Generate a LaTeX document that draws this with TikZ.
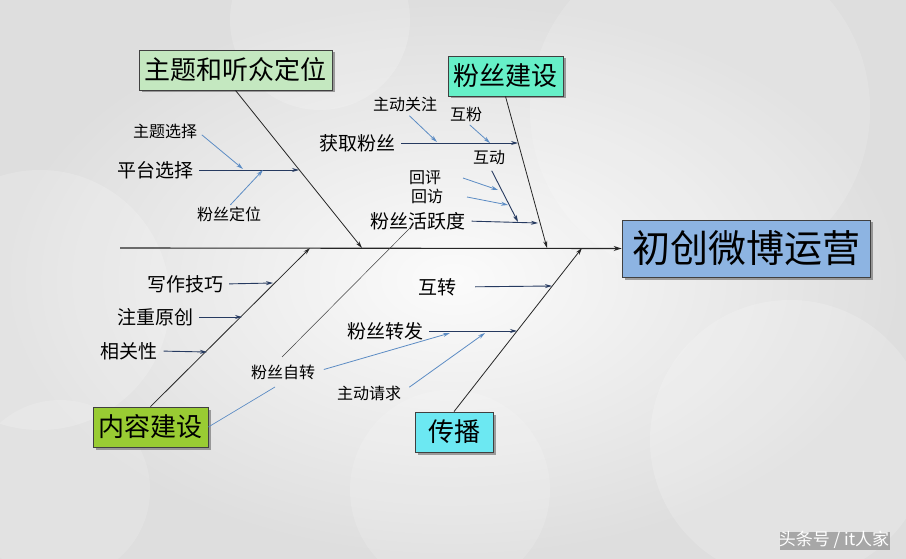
\documentclass[tikz,border=0pt]{standalone}
\usepackage{fontspec}
\setmainfont{Noto Sans CJK SC}
\usetikzlibrary{arrows.meta,shadows}
\definecolor{ztgreen}{RGB}{196,232,192}
\definecolor{fsmint}{RGB}{102,240,200}
\definecolor{nrolive}{RGB}{153,204,51}
\definecolor{cbcyan}{RGB}{108,232,242}
\definecolor{mainblue}{RGB}{141,180,226}
\definecolor{navyrib}{RGB}{38,58,96}
\definecolor{bluetwig}{RGB}{92,140,196}

\begin{document}
\begin{tikzpicture}[x=1pt,y=-1pt,
  catbox/.style={draw=black!75, line width=0.8pt, inner sep=0pt, minimum height=40pt,
    drop shadow={shadow xshift=2.5pt, shadow yshift=-2.5pt, fill=black!60, opacity=0.6},
    font=\fontsize{26}{26}\selectfont},
  bone/.style={black!85, line width=0.8pt, -{Stealth[length=7pt,width=4pt]}},
  rib/.style={navyrib, line width=0.9pt, shorten <=6pt, -{Stealth[length=7pt,width=4pt]}},
  twig/.style={bluetwig, line width=0.8pt, -{Stealth[length=7pt,width=4pt]}},
  midlbl/.style={font=\fontsize{19}{19}\selectfont, inner sep=0pt},
  smalllbl/.style={font=\fontsize{16}{16}\selectfont, inner sep=0pt}]
\useasboundingbox (0,0) rectangle (906,559);
% background
\shade[inner color=gray!3, outer color=gray!26] (0,0) rectangle (906,559);
\fill[white, opacity=0.18] (40,300) circle (130);
\fill[white, opacity=0.18] (320,20) circle (90);
\fill[white, opacity=0.15] (700,110) circle (170);
\fill[white, opacity=0.18] (790,440) circle (140);
\fill[white, opacity=0.15] (450,490) circle (100);
\fill[white, opacity=0.15] (60,490) circle (90);

% category boxes
\node[catbox, fill=ztgreen, minimum width=193pt] (zt) at (235.5,70) {主题和听众定位};
\node[catbox, fill=fsmint, minimum width=115pt] (fsjs) at (505.5,76) {粉丝建设};
\node[catbox, fill=nrolive, minimum width=115pt] (nrjs) at (150.5,427) {内容建设};
\node[catbox, fill=cbcyan, minimum width=78pt] (cb) at (454,432) {传播};
\node[catbox, fill=mainblue, minimum width=248pt, minimum height=57pt,
  font=\fontsize{38}{38}\selectfont] (main) at (746,248.5) {初创微博运营};

% spine and bones
\coordinate (tail) at (120,248);
\coordinate (b1) at (362,248);
\coordinate (b2) at (547,248);
\coordinate (b3) at (310,248);
\coordinate (b4) at (582,248);
\draw[black!85, line width=1.1pt, -{Stealth[length=8pt,width=5pt]}] (tail) -- (main.west);
\draw[bone] (zt.south) -- (b1);
\draw[bone] (fsjs.south) -- (b2);
\draw[bone] (nrjs.north) -- (b3);
\draw[bone] (cb.north) -- (b4);

% labels
\node[midlbl] (ptxz) at (155,170) {平台选择};
\node[smalllbl] (ztxz) at (165,131) {主题选择};
\node[smalllbl] (fsdw) at (229,214) {粉丝定位};
\node[midlbl] (hqfs) at (357,143) {获取粉丝};
\node[smalllbl] (zdgz) at (405,104) {主动关注};
\node[smalllbl] (hf) at (466,114) {互粉};
\node[smalllbl] (hd) at (489,158) {互动};
\node[smalllbl] (hp) at (425,178) {回评};
\node[smalllbl] (hfw) at (427,196) {回访};
\node[midlbl] (hyd) at (418,221) {粉丝活跃度};
\node[midlbl] (xzjq) at (185,284) {写作技巧};
\node[midlbl] (zzyc) at (155,317) {注重原创};
\node[midlbl] (xgx) at (129,351) {相关性};
\node[smalllbl] (fszz) at (283,372) {粉丝自转};
\node[midlbl] (hz) at (437,287) {互转};
\node[midlbl] (fszf) at (385,331) {粉丝转发};
\node[smalllbl] (zdqq) at (369,393) {主动请求};

% points on bones and ribs
\coordinate (r1) at (299,170);
\coordinate (r2) at (518,143);
\coordinate (r3) at (538,223);
\coordinate (r4) at (273,283);
\coordinate (r5) at (242,317);
\coordinate (r6) at (207,352);
\coordinate (r7) at (552,286);
\coordinate (r8) at (517,331);
\coordinate (hdEnd) at (518,222);

% ribs
\draw[rib] (ptxz.east) -- (r1);
\draw[rib] (hqfs.east) -- (r2);
\draw[rib] (hyd.east) -- (r3);
\draw[rib] (xzjq.east) -- (r4);
\draw[rib] (zzyc.east) -- (r5);
\draw[rib] (xgx.east) -- (r6);
\draw[rib, shorten <=19pt] (hz.east) -- (r7);
\draw[rib] (fszf.east) -- (r8);
\draw[rib] (hd.south) -- (hdEnd);

% twigs
\coordinate (t1) at (243,169);
\coordinate (t2) at (263,170);
\coordinate (t3) at (437,142);
\coordinate (t4) at (490,143);
\coordinate (hpTail) at (463,178);
\coordinate (hfwTail) at (467,197);
\coordinate (t5) at (498,190);
\coordinate (t6) at (508,205);
\coordinate (t7) at (485,333);
\coordinate (t8) at (450,333);
\draw[twig, shorten <=6pt] (ztxz.east) -- (t1);
\draw[twig, shorten <=2pt] (fsdw.north) -- (t2);
\draw[twig, shorten <=6pt] (zdgz.south) -- (t3);
\draw[twig, shorten <=5pt] (hf.south) -- (t4);
\draw[twig] (hpTail) -- (t5);
\draw[twig] (hfwTail) -- (t6);
\draw[twig, shorten <=10pt] (zdqq.east) -- (t7);
\draw[twig, shorten <=9pt] (fszz.east) -- (t8);

% loose lines
\coordinate (zzTop) at (412,226);
\coordinate (zzBot) at (282,357);
\coordinate (nrEnd) at (275,387);
\draw[black!75, line width=0.5pt] (zzTop) -- (zzBot);
\draw[bluetwig, line width=0.7pt] (nrjs.east) -- (nrEnd);

% watermark
\node[white, font=\fontsize{17}{17}\selectfont, inner sep=0pt,
  drop shadow={shadow xshift=1pt, shadow yshift=-1pt, fill=black!50, opacity=0.6}] (wm) at (834,540) {头条号 / it人家};
\end{tikzpicture}
\end{document}
